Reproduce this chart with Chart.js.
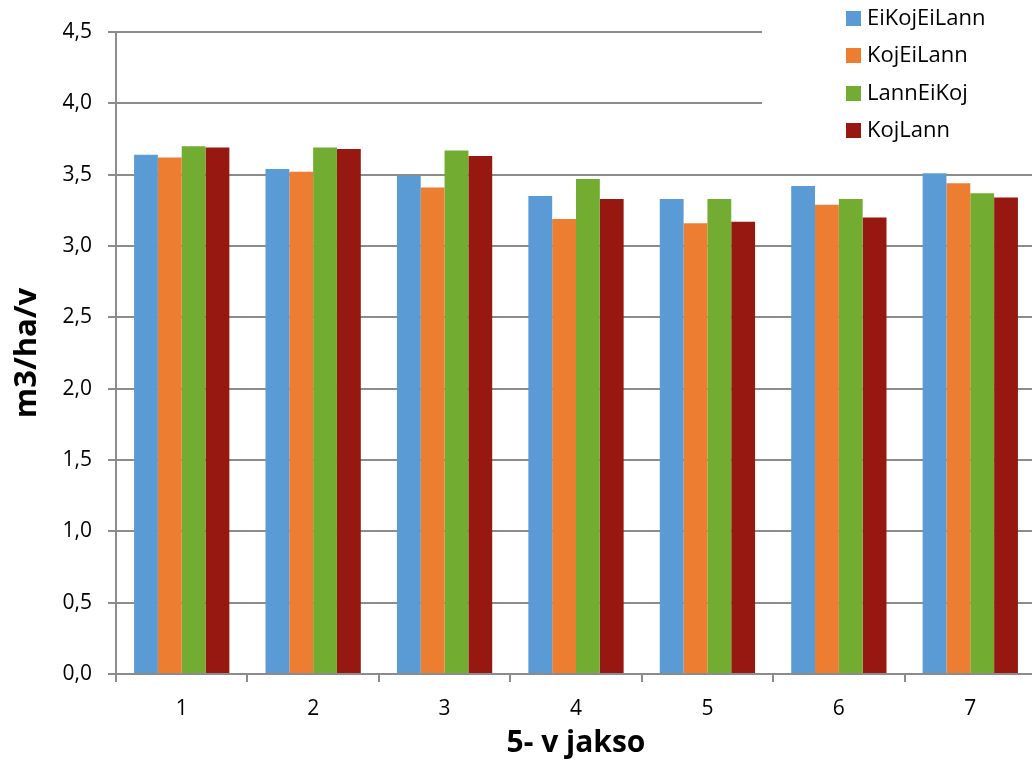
<!DOCTYPE html>
<html>
<head>
<meta charset="utf-8">
<script src="https://cdn.jsdelivr.net/npm/chart.js@4"></script>
<style>
  html, body { margin: 0; padding: 0; background: #fff; overflow: hidden; }
  #wrap { width: 1040px; height: 761px; }
</style>
</head>
<body>
<div id="wrap"><canvas id="barChart"></canvas></div>
<script>
const categories = ['1', '2', '3', '4', '5', '6', '7'];
const seriesNames = ['EiKojEiLann', 'KojEiLann', 'LannEiKoj', 'KojLann'];
const eiKojEiLann = [3.64, 3.54, 3.49, 3.35, 3.33, 3.42, 3.51];
const kojEiLann   = [3.62, 3.52, 3.41, 3.19, 3.16, 3.29, 3.44];
const lannEiKoj   = [3.70, 3.69, 3.67, 3.47, 3.33, 3.33, 3.37];
const kojLann     = [3.69, 3.68, 3.63, 3.33, 3.17, 3.20, 3.34];
const yTickLabels = ['0,0', '0,5', '1,0', '1,5', '2,0', '2,5', '3,0', '3,5', '4,0', '4,5'];
const colors = ['#5B9BD5', '#ED7D31', '#72AD32', '#961810'];

const FONT = '"Open Sans", Lato, sans-serif';
const gridGray = '#8c8c8c';

// legend drawn inside the plot, on a white box covering the top grid lines
const legendBox = {
  id: 'legendBox',
  afterDraw(chart) {
    const ctx = chart.ctx;
    ctx.save();
    ctx.fillStyle = '#fff';
    ctx.fillRect(762, 0, 280, 148);
    ctx.font = '22px ' + FONT;
    ctx.textBaseline = 'middle';
    const rows = [18, 55, 93, 130];
    chart.data.datasets.forEach((ds, i) => {
      ctx.fillStyle = ds.backgroundColor;
      ctx.fillRect(846, rows[i] - 7, 15, 15);
      ctx.fillStyle = '#000';
      ctx.fillText(ds.label, 867, rows[i] + 1);
    });
    ctx.restore();
  }
};

const data = [eiKojEiLann, kojEiLann, lannEiKoj, kojLann];

const ctx = document.getElementById('barChart').getContext('2d');
const barChart = new Chart(ctx, {
  type: 'bar',
  data: {
    labels: categories,
    datasets: seriesNames.map((name, i) => ({
      label: name,
      data: data[i],
      backgroundColor: colors[i],
      barPercentage: 1,
      categoryPercentage: 0.725
    }))
  },
  options: {
    responsive: true,
    maintainAspectRatio: false,
    animation: false,
    layout: { padding: { top: 32, right: 4, bottom: 0, left: 0 } },
    plugins: {
      legend: { display: false },
      tooltip: { enabled: false }
    },
    scales: {
      x: {
        afterFit: s => { s.height = 87; },
        grid: {
          offset: true,
          drawOnChartArea: false,
          tickLength: 8,
          color: gridGray,
          lineWidth: 2
        },
        border: { color: gridGray, width: 2 },
        ticks: { color: '#000', font: { family: FONT, size: 21 }, padding: 14 },
        title: {
          display: true,
          text: '5- v jakso',
          color: '#000',
          font: { family: FONT, size: 30, weight: 'bold' },
          padding: { top: 0, bottom: 0 }
        }
      },
      y: {
        min: 0,
        max: 4.5,
        afterFit: s => { s.width = 116; },
        ticks: {
          stepSize: 0.5,
          color: '#000',
          font: { family: FONT, size: 21 },
          padding: 16,
          callback: (v, i) => yTickLabels[i]
        },
        grid: { color: gridGray, lineWidth: 2, tickLength: 8 },
        border: { color: gridGray, width: 2 },
        title: {
          display: true,
          text: 'm3/ha/v',
          color: '#000',
          font: { family: FONT, size: 31, weight: 'bold' },
          padding: { top: 9, bottom: 0 }
        }
      }
    }
  },
  plugins: [legendBox]
});
</script>
</body>
</html>
